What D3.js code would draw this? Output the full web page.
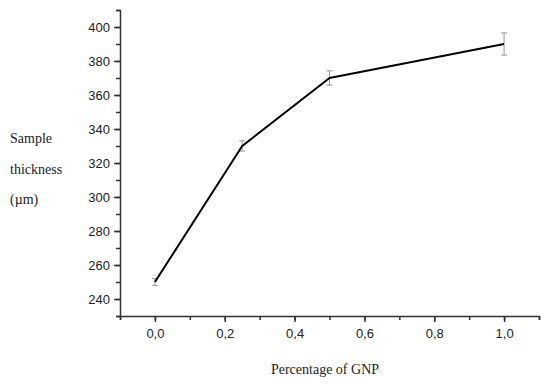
<!DOCTYPE html>
<html>
<head>
<meta charset="utf-8">
<script src="https://cdn.jsdelivr.net/npm/d3@7"></script>
<style>
  body { margin: 0; background: #fff; }
  svg { display: block; }
</style>
</head>
<body>
<svg id="chart"></svg>
<script>
// data
const gnp = [0, 0.25, 0.5, 1.0];
const thickness = [250, 330, 370, 390];
const errors = [2, 3, 4.2, 6.5];
const xTicks = [0, 0.2, 0.4, 0.6, 0.8, 1.0];
const yTicks = [240, 260, 280, 300, 320, 340, 360, 380, 400];

let svgWidth = 550, svgHeight = 386;
let svg = d3.select('#chart')
    .attr("width", svgWidth)
    .attr("height", svgHeight);

let x = d3.scaleLinear().domain([-0.1, 1.1]).range([120, 539]);
let y = d3.scaleLinear().domain([230, 410]).range([316, 10]);

let fmt = d => d3.format(".1f")(d).replace(".", ",");

// minor ticks first
let xAxisMinor = d3.axisBottom(x)
    .tickValues(d3.range(-0.1, 1.15, 0.1))
    .tickSize(4)
    .tickFormat("");
let yAxisMinor = d3.axisLeft(y)
    .tickValues(d3.range(230, 415, 10))
    .tickSize(4)
    .tickFormat("");

svg.append("g")
    .attr("transform", "translate(0,316)")
    .call(xAxisMinor);
svg.append("g")
    .attr("transform", "translate(120,0)")
    .call(yAxisMinor);

let xg = svg.append("g")
    .attr("transform", "translate(0,316)")
    .call(d3.axisBottom(x).tickValues(xTicks).tickSize(6).tickPadding(7).tickFormat(fmt));
xg.select(".domain").remove();

let yg = svg.append("g")
    .attr("transform", "translate(120,0)")
    .call(d3.axisLeft(y).tickValues(yTicks).tickSize(6).tickPadding(4));
yg.select(".domain").remove();

svg.selectAll(".domain, .tick line")
    .attr("stroke", "#333")
    .attr("stroke-width", 1.5);
svg.selectAll(".tick text")
    .attr("font-family", "Liberation Sans, Arial, sans-serif")
    .attr("font-size", 13)
    .attr("fill", "#222");

let data = gnp.map((g, i) => ({ g: g, v: thickness[i], e: errors[i] }));

// error bars
let eb = svg.append("g")
    .attr("stroke", "#999")
    .attr("stroke-width", 1);
data.forEach(d => {
    eb.append("line")
        .attr("x1", x(d.g)).attr("x2", x(d.g))
        .attr("y1", y(d.v - d.e)).attr("y2", y(d.v + d.e));
    [d.v - d.e, d.v + d.e].forEach(v => {
        eb.append("line")
            .attr("x1", x(d.g) - 3).attr("x2", x(d.g) + 3)
            .attr("y1", y(v)).attr("y2", y(v));
    });
});

let line = d3.line()
    .x(d => x(d.g))
    .y(d => y(d.v));

svg.append("path")
    .datum(data)
    .attr("fill", "none")
    .attr("stroke", "#000")
    .attr("stroke-width", 2)
    .attr("stroke-linejoin", "round")
    .attr("d", line);

// axis titles
let serif = "Liberation Serif, Times New Roman, serif";
["Sample", "thickness", "(\u00b5m)"].forEach((t, i) => {
    svg.append("text")
        .attr("x", 10)
        .attr("y", 143 + i * 30.5)
        .attr("font-family", serif)
        .attr("font-size", 14)
        .attr("fill", "#222")
        .text(t);
});

svg.append("text")
    .attr("x", 325)
    .attr("y", 374)
    .attr("text-anchor", "middle")
    .attr("font-family", serif)
    .attr("font-size", 14)
    .attr("fill", "#222")
    .text("Percentage of GNP");
</script>
</body>
</html>
